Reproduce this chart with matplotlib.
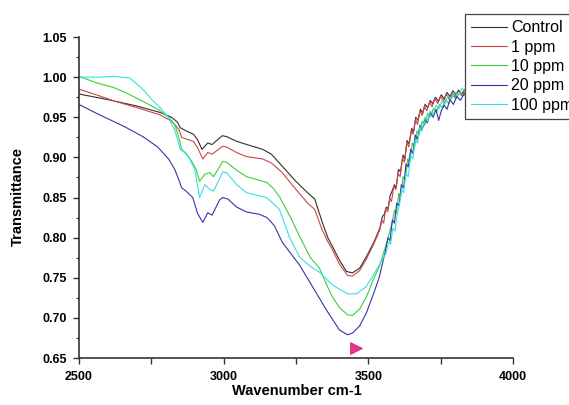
import matplotlib
matplotlib.use("Agg")
import matplotlib.pyplot as plt
from matplotlib.ticker import MultipleLocator

plt.rcParams.update({
    "font.family": ["Liberation Sans", "DejaVu Sans"],
    "axes.spines.top": False,
    "axes.spines.right": False,
})

# ---- data (wavenumber, transmittance) ----
control = [
    (2500, 0.979), (2600, 0.972), (2700, 0.964), (2780, 0.956), (2820, 0.950),
    (2840, 0.944), (2850, 0.937), (2870, 0.933), (2895, 0.929), (2910, 0.922),
    (2925, 0.910), (2945, 0.918), (2960, 0.916), (2995, 0.927), (3010, 0.926),
    (3045, 0.920), (3080, 0.916), (3135, 0.910), (3165, 0.904), (3200, 0.890),
    (3250, 0.870), (3290, 0.856), (3315, 0.848), (3340, 0.820), (3360, 0.800),
    (3376, 0.789), (3400, 0.772), (3424, 0.758), (3445, 0.756), (3470, 0.762),
    (3493, 0.776), (3520, 0.795), (3540, 0.812), (3548, 0.826), (3555, 0.829),
    (3562, 0.838), (3568, 0.836), (3575, 0.852), (3582, 0.858), (3590, 0.866),
    (3596, 0.862), (3604, 0.885), (3611, 0.882), (3620, 0.903), (3626, 0.898),
    (3634, 0.921), (3641, 0.917), (3650, 0.936), (3656, 0.931), (3664, 0.950),
    (3672, 0.946), (3680, 0.960), (3688, 0.955), (3696, 0.966), (3705, 0.962),
    (3714, 0.971), (3722, 0.967), (3732, 0.975), (3742, 0.970), (3752, 0.978),
    (3762, 0.973), (3772, 0.981), (3782, 0.976), (3792, 0.983), (3802, 0.978),
    (3812, 0.984), (3822, 0.979), (3835, 0.985), (3850, 0.982), (3870, 0.986),
    (3900, 0.984), (3950, 0.987), (3990, 0.986),
]
ppm1 = [
    (2500, 0.985), (2560, 0.978), (2624, 0.970), (2700, 0.962), (2780, 0.953),
    (2821, 0.945), (2845, 0.935), (2855, 0.925), (2870, 0.923), (2895, 0.920),
    (2910, 0.912), (2928, 0.898), (2945, 0.906), (2960, 0.904), (2997, 0.914),
    (3010, 0.913), (3045, 0.906), (3079, 0.901), (3135, 0.898), (3165, 0.893),
    (3200, 0.882), (3250, 0.860), (3290, 0.843), (3315, 0.835), (3340, 0.810),
    (3360, 0.795), (3376, 0.785), (3400, 0.767), (3428, 0.753), (3445, 0.752),
    (3470, 0.759), (3493, 0.773), (3520, 0.793), (3540, 0.810), (3547, 0.822),
    (3553, 0.818), (3560, 0.836), (3567, 0.832), (3574, 0.849), (3580, 0.845),
    (3588, 0.864), (3595, 0.860), (3603, 0.880), (3610, 0.876), (3618, 0.899),
    (3625, 0.894), (3633, 0.918), (3640, 0.913), (3648, 0.933), (3655, 0.929),
    (3663, 0.947), (3670, 0.941), (3678, 0.958), (3686, 0.952), (3694, 0.964),
    (3702, 0.958), (3712, 0.969), (3720, 0.963), (3730, 0.973), (3740, 0.967),
    (3750, 0.976), (3760, 0.970), (3770, 0.979), (3780, 0.972), (3790, 0.981),
    (3800, 0.975), (3810, 0.983), (3822, 0.977), (3835, 0.984), (3850, 0.980),
    (3870, 0.985), (3900, 0.983), (3950, 0.986), (3990, 0.985),
]
ppm10 = [
    (2500, 1.001), (2560, 0.993), (2620, 0.987), (2660, 0.981), (2720, 0.970),
    (2772, 0.960), (2810, 0.950), (2831, 0.941), (2845, 0.925), (2855, 0.910),
    (2870, 0.905), (2890, 0.895), (2905, 0.885), (2917, 0.870), (2935, 0.879),
    (2952, 0.881), (2965, 0.876), (2997, 0.895), (3010, 0.894), (3045, 0.884),
    (3079, 0.876), (3148, 0.869), (3170, 0.862), (3193, 0.851), (3230, 0.826),
    (3262, 0.802), (3300, 0.775), (3331, 0.762), (3355, 0.742), (3376, 0.726),
    (3400, 0.713), (3428, 0.704), (3445, 0.703), (3470, 0.711), (3493, 0.726),
    (3520, 0.750), (3538, 0.764), (3566, 0.797), (3574, 0.808), (3582, 0.818),
    (3590, 0.834), (3597, 0.830), (3605, 0.855), (3612, 0.851), (3620, 0.876),
    (3628, 0.872), (3636, 0.898), (3644, 0.894), (3652, 0.918), (3660, 0.913),
    (3668, 0.933), (3676, 0.928), (3686, 0.945), (3695, 0.940), (3705, 0.955),
    (3715, 0.951), (3725, 0.961), (3735, 0.956), (3746, 0.966), (3756, 0.962),
    (3767, 0.972), (3778, 0.967), (3790, 0.978), (3802, 0.973), (3815, 0.981),
    (3830, 0.977), (3850, 0.984), (3880, 0.981), (3920, 0.986), (3990, 0.985),
]
ppm20 = [
    (2500, 0.966), (2560, 0.955), (2659, 0.938), (2720, 0.926), (2772, 0.913),
    (2810, 0.898), (2831, 0.885), (2845, 0.872), (2855, 0.862), (2870, 0.858),
    (2893, 0.850), (2910, 0.830), (2928, 0.819), (2945, 0.831), (2960, 0.828),
    (2986, 0.847), (2997, 0.850), (3015, 0.848), (3045, 0.838), (3079, 0.832),
    (3124, 0.829), (3150, 0.825), (3175, 0.815), (3203, 0.794), (3262, 0.766),
    (3307, 0.739), (3355, 0.710), (3400, 0.685), (3428, 0.679), (3445, 0.681),
    (3470, 0.690), (3493, 0.706), (3520, 0.732), (3538, 0.751), (3560, 0.785),
    (3568, 0.800), (3575, 0.796), (3583, 0.822), (3590, 0.818), (3598, 0.843),
    (3606, 0.840), (3614, 0.866), (3622, 0.862), (3630, 0.892), (3638, 0.888),
    (3646, 0.910), (3654, 0.905), (3662, 0.928), (3670, 0.922), (3678, 0.940),
    (3686, 0.934), (3695, 0.948), (3704, 0.943), (3714, 0.956), (3724, 0.950),
    (3734, 0.960), (3743, 0.946), (3752, 0.958), (3762, 0.965), (3772, 0.960),
    (3782, 0.972), (3794, 0.966), (3806, 0.976), (3818, 0.971), (3832, 0.980),
    (3850, 0.976), (3880, 0.983), (3920, 0.980), (3990, 0.985),
]
ppm100 = [
    (2500, 1.000), (2560, 1.000), (2620, 1.001), (2676, 0.999), (2720, 0.985),
    (2752, 0.972), (2780, 0.962), (2807, 0.951), (2830, 0.935), (2841, 0.922),
    (2850, 0.910), (2865, 0.906), (2880, 0.900), (2900, 0.885), (2917, 0.850),
    (2935, 0.866), (2952, 0.860), (2965, 0.858), (2997, 0.882), (3010, 0.881),
    (3045, 0.866), (3079, 0.856), (3148, 0.850), (3170, 0.843), (3193, 0.835),
    (3228, 0.800), (3262, 0.776), (3300, 0.764), (3331, 0.757), (3376, 0.741),
    (3428, 0.730), (3459, 0.730), (3490, 0.738), (3514, 0.751), (3562, 0.781),
    (3570, 0.795), (3577, 0.792), (3585, 0.812), (3592, 0.808), (3600, 0.830),
    (3607, 0.839), (3615, 0.860), (3622, 0.856), (3630, 0.880), (3638, 0.876),
    (3646, 0.902), (3654, 0.898), (3662, 0.922), (3670, 0.918), (3678, 0.938),
    (3686, 0.933), (3695, 0.950), (3704, 0.945), (3714, 0.958), (3724, 0.953),
    (3734, 0.965), (3744, 0.960), (3754, 0.970), (3764, 0.966), (3775, 0.977),
    (3786, 0.972), (3798, 0.982), (3810, 0.977), (3824, 0.986), (3840, 0.981),
    (3860, 0.988), (3890, 0.984), (3930, 0.989), (3990, 0.987),
]
labels = ["Control", "1 ppm", "10 ppm", "20 ppm", "100 ppm"]
colors = ["#303030", "#d04545", "#3ccf3c", "#3535a8", "#35e0e0"]

# peak marker under the O-H band
marker_x = [3459]
marker_y = [0.663]

fig = plt.figure(figsize=(5.69, 4.05), dpi=100)
ax = fig.add_axes([0.1388, 0.1160, 0.7628, 0.7926])

for series, lbl, c in zip([control, ppm1, ppm10, ppm20, ppm100], labels, colors):
    wn, t = zip(*series)
    ax.plot(wn, t, color=c, linewidth=0.8, label=lbl)

ax.plot(marker_x, marker_y, ">", color="#e8318c", markersize=8,
        markeredgecolor="#c81f73", markeredgewidth=0.5, clip_on=False)

ax.set_xlim(2500, 4000)
ax.set_ylim(0.65, 1.05)
ax.xaxis.set_major_locator(MultipleLocator(500))
ax.xaxis.set_minor_locator(MultipleLocator(250))
ax.yaxis.set_major_locator(MultipleLocator(0.05))
ax.yaxis.set_minor_locator(MultipleLocator(0.025))
ax.yaxis.set_major_formatter(plt.FormatStrFormatter("%.2f"))
ax.tick_params(axis="both", which="major", direction="out", length=4.5,
               width=1.0, labelsize=9, color="#333333")
ax.tick_params(axis="x", which="minor", direction="out", length=4.5, width=1.0,
               color="#333333")
ax.tick_params(axis="y", which="minor", direction="out", length=2.5, width=0.8,
               color="#333333")
ax.tick_params(axis="x", which="major", pad=5)
ax.tick_params(axis="y", which="major", pad=4)
for lab in ax.get_xticklabels() + ax.get_yticklabels():
    lab.set_fontweight("bold")
for s in ["left", "bottom"]:
    ax.spines[s].set_linewidth(1.2)
    ax.spines[s].set_color("#333333")

fig.text(0.522, 0.017, "Wavenumber cm-1", ha="center", va="bottom",
         fontsize=10.5, fontweight="bold")
fig.text(0.032, 0.515, "Transmittance", ha="center", va="center",
         rotation=90, fontsize=10.5, fontweight="bold")

# legend runs off the right edge, as in the original export
leg = ax.legend(loc="upper left", bbox_to_anchor=(465 / 569, 1 - 14 / 405),
                bbox_transform=fig.transFigure, fontsize=11.5, frameon=True,
                fancybox=False, framealpha=1, edgecolor="#444444",
                handlelength=2.2, handletextpad=0.3, labelspacing=0.27,
                borderpad=0.4, borderaxespad=0)
leg.get_frame().set_linewidth(0.9)
leg.set_zorder(5)

fig.savefig("out.png", dpi=100)
